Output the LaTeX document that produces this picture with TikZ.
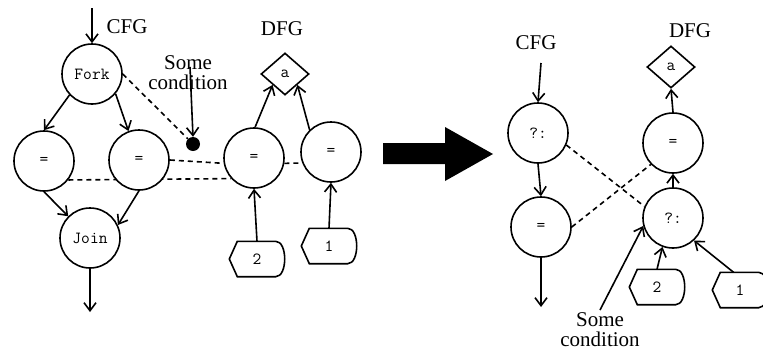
\documentclass[tikz,border=0pt]{standalone}
\usepackage{fontspec}
\setmainfont{Liberation Serif}
\usetikzlibrary{arrows.meta,shapes.geometric,backgrounds}

\tikzset{
  optext/.style={font=\ttfamily\fontsize{17}{17}\selectfont},
  op/.style={circle, draw, fill=white, line width=1.6pt, minimum size=60pt,
    inner sep=0pt, optext},
  var/.style={diamond, draw, fill=white, line width=1.6pt, minimum width=48pt,
    minimum height=42pt, inner sep=0pt, optext},
  const/.style={minimum width=55pt, minimum height=35pt, inner sep=0pt, optext},
  cond/.style={circle, fill=black, minimum size=14pt, inner sep=0pt},
  lbl/.style={font=\fontsize{21}{20}\selectfont, inner sep=0pt, align=center},
  flow/.style={-{Straight Barb[length=8pt,width=12pt]}, line width=1.6pt},
  link/.style={dash pattern=on 5pt off 4pt, line width=1.6pt},
}

% outline of a constant: pointed on the left, rounded on the right
\newcommand{\constoutline}[1]{%
  \draw[line width=1.6pt, line join=miter]
    (#1.west) -- ([xshift=8pt]#1.north west) -- ([xshift=-9pt]#1.north east)
    .. controls ([xshift=3pt]#1.north east) and ([xshift=3pt]#1.south east) ..
    ([xshift=-9pt]#1.south east) -- ([xshift=8pt]#1.south west) -- cycle;}

\begin{document}
\begin{tikzpicture}[x=1pt, y=-1pt]
\clip (0,0) rectangle (763,351);

% ---------- before: fork / join ----------
\node[lbl] (cfgA) at (127,27) {CFG};
\node[lbl] (dfgA) at (282,29) {DFG};
\node[lbl] (scA) at (188,73) {Some\\condition};

\node[op] (fork) at (92,74) {Fork};
\node[op] (leq) at (44,161) {=};
\node[op] (meq) at (139,160) {=};
\node[op] (join) at (90,238) {Join};
\node[cond] (dot) at (193,144) {};

\node[op] (deqA) at (254,158) {=};
\node[op] (deqB) at (331,152) {=};
\node[var] (aA) at (285,74) {a};
\node[const] (twoA) at (257,259) {2};
\node[const] (oneA) at (329,246) {1};
\constoutline{twoA}
\constoutline{oneA}

\coordinate (inA) at (92,8);
\coordinate (outA) at (90,312);
\coordinate (scAtip) at (190,67);

\draw[flow] (inA) -- (fork.north);
\draw[flow] (fork.-137) -- (leq.north);
\draw[flow] (fork.-40) -- (meq.110);
\draw[flow] (leq.south) -- (join.135);
\draw[flow] (meq.south) -- (join.25);
\draw[flow] (join.south) -- (outA);
\draw[flow] (scAtip) -- (dot.north);
\draw[flow] (deqA.88) -- (aA.south west);
\draw[flow] (deqB.134) -- (aA.south east);
\draw[flow] (twoA.north) -- (deqA.south);
\draw[flow] (oneA.north) -- (deqB.south);

\begin{scope}[on background layer]
  \draw[link] (fork.east) -- (dot);
  \draw[link] (leq.-38) -- (deqA.-138);
  \draw[link] (meq.east) -- (deqA.190);
  \draw[link] (deqA.-10) -- (deqB.201);
\end{scope}

% ---------- transformation arrow ----------
\fill (383,143) -- (445,143) -- (445,127) -- (493,154) -- (445,181)
  -- (445,164) -- (383,164) -- cycle;

% ---------- after: selection ----------
\node[lbl] (cfgB) at (536,43) {CFG};
\node[lbl] (dfgB) at (690,31) {DFG};
\node[lbl] (scB) at (600,330) {Some\\condition};

\node[op] (csel) at (538,133) {?:};
\node[op] (ceq) at (541,227) {=};
\node[op] (deqC) at (673,143) {=};
\node[op] (dsel) at (673,218) {?:};
\node[var] (aB) at (671,67) {a};
\node[const] (twoB) at (657,287) {2};
\node[const] (oneB) at (740,290) {1};
\constoutline{twoB}
\constoutline{oneB}

\coordinate (inB) at (541,63);
\coordinate (outB) at (541,307);
\coordinate (scBtip) at (600,310);

\draw[flow] (inB) -- (csel.north);
\draw[flow] (csel.south) -- (ceq.north);
\draw[flow] (ceq.south) -- (outB);
\draw[flow] (deqC.north) -- (aB.south);
\draw[flow] (dsel.north) -- (deqC.south);
\draw[flow] (twoB.north) -- (dsel.-110);
\draw[flow] (oneB.110) -- (dsel.-47);
\draw[flow] (scBtip) -- (dsel.195);

\begin{scope}[on background layer]
  \draw[link] (csel.-23) -- (dsel.158);
  \draw[link] (ceq.east) -- (deqC.-136);
\end{scope}
\end{tikzpicture}
\end{document}
